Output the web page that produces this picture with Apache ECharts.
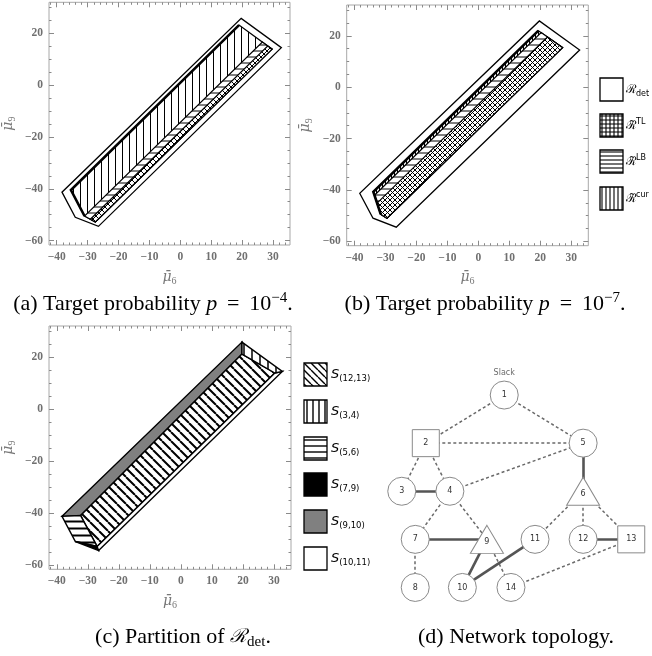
<!DOCTYPE html>
<html><head><meta charset="utf-8">
<script src="https://cdn.jsdelivr.net/npm/echarts@6.0.0/dist/echarts.min.js"></script>
<style>html,body{margin:0;padding:0;background:#fff;}#chart{width:652px;height:656px;}</style>
</head><body><div id="chart"></div>
<script>
// ---------- axis ticks ----------
const xMajor = [-40, -30, -20, -10, 0, 10, 20, 30];
const xMinor = [-42, -38, -36, -34, -32, -28, -26, -24, -22, -18, -16, -14, -12, -8, -6, -4, -2, 2, 4, 6, 8, 12, 14, 16, 18, 22, 24, 26, 28, 32, 34];
const yMajor = [-60, -40, -20, 0, 20];
const yMinor = [-55, -50, -45, -35, -30, -25, -15, -10, -5, 5, 10, 15, 25, 30];
const xRange = [-42.5, 35.5];
const yRange = [-61.7, 32];

// ---------- regions (mu6, mu9) ----------
const rDet = [[-38.3, -41.3], [-34, -51], [-26.5, -54.5], [32.7, 14.5], [19.7, 25.8]];
// (a) p = 1e-4
const curA = [[-35.4, -40.5], [-31, -50.5], [-27.5, -52.8], [29.7, 13.9], [19, 23.2]];
const lbA = [[-31, -50.5], [-27.5, -52.8], [29.7, 13.9], [26.55, 16.64]];
const tlA = [[-29.1, -51.75], [-27.5, -52.8], [29.7, 13.9], [28.27, 15.14]];
const edgeA = [[19, 23.2], [-35.4, -40.5], [-31, -50.5]];
// (b) p = 1e-7
const curB = [[-33.9, -40.7], [-31.5, -49.5], [-29.5, -51], [27.2, 15.4], [19.4, 22]];
const lbB = [[-33.53, -42.06], [-31.5, -49.5], [-29.5, -51], [27.2, 15.4], [20.28, 21.26]];
const tlB = [[-32.69, -45.14], [-31.5, -49.5], [-29.5, -51], [27.2, 15.4], [22.31, 19.54]];
const edgeB = [[19.4, 22], [-33.9, -40.7], [-31.5, -49.5]];
// (c) partition
const s910 = [[-38.3, -41.3], [19.7, 25.8], [19.7, 21.2], [-32.3, -41]];
const s1213 = [[-32.3, -41], [19.7, 21.2], [30.3, 13.9], [-27, -52.9]];
const s56 = [[-38.3, -41.3], [-32.3, -41], [-27, -52.9], [-34, -51]];
const s79 = [[-34, -51], [-27, -52.9], [-26.5, -54.5]];
const s1011 = [[-27, -52.9], [-26.5, -54.5], [32.7, 14.5], [30.3, 13.9]];
const s34 = [[19.7, 25.8], [32.7, 14.5], [30.3, 13.9], [19.7, 21.2]];

// ---------- (d) network ----------
const nodeIds = ['1', '2', '3', '4', '5', '6', '7', '8', '9', '10', '11', '12', '13', '14'];
const nodeX = [2.13, 0.5, 0, 1.0, 3.77, 3.77, 0.28, 0.28, 1.77, 1.26, 2.77, 3.77, 4.77, 2.27];
const nodeY = [0, 1, 2, 2, 1, 2, 3, 4, 3, 4, 3, 3, 3, 4];
const nodeShape = ['circle', 'rect', 'circle', 'circle', 'circle', 'triangle', 'circle', 'circle', 'triangle', 'circle', 'circle', 'circle', 'rect', 'circle'];
const dashedLinks = [[1, 2], [1, 5], [2, 5], [2, 3], [2, 4], [4, 5], [4, 7], [4, 9], [6, 11], [6, 12], [6, 13], [7, 8], [9, 14], [13, 14]];
const solidLinks = [[3, 4], [5, 6], [7, 9], [9, 10], [10, 11], [12, 13]];
const slackNode = '1';

// ---------- legend labels ----------
const legendBLabels = ['{r|ℛ}{sub|det}', '{r|ℛ\u0303}{sup|TL}', '{r|ℛ\u0303}{sup|LB}', '{r|ℛ\u0303}{sup|cur}'];
const legendCLabels = ['(12,13)', '(3,4)', '(5,6)', '(7,9)', '(9,10)', '(10,11)'];
const axisNames = [{ sym: 'μ\u0304', sub: '6' }, { sym: 'μ\u0304', sub: '9' }];

// ---------- patterns ----------
function pattern(kind, s, lw) {
  const c = document.createElement('canvas'); c.width = s; c.height = s;
  const g = c.getContext('2d');
  g.fillStyle = '#fff'; g.fillRect(0, 0, s, s);
  g.strokeStyle = '#000'; g.lineWidth = lw;
  g.beginPath();
  if (kind.includes('v')) { g.moveTo(s / 2, 0); g.lineTo(s / 2, s); }
  if (kind.includes('h')) { g.moveTo(0, s / 2); g.lineTo(s, s / 2); }
  if (kind.includes('d')) { for (const k of [-s, 0, s]) { g.moveTo(k, 0); g.lineTo(k + s, s); } }
  if (kind.includes('a')) { for (const k of [-s, 0, s]) { g.moveTo(k, s); g.lineTo(k + s, 0); } }
  g.stroke();
  return { image: c, repeat: 'repeat' };
}
const P = {
  aCur: pattern('v', 7, 1), aLB: pattern('h', 6, 1), aTL: pattern('da', 6, 1),
  bCur: pattern('v', 3, 1), bLB: pattern('h', 6, 1), bTL: pattern('da', 5, 1),
  cDiag: pattern('d', 9, 2), cH: pattern('h', 7, 2), cV: pattern('v', 8, 1.5),
  lTL: pattern('vh', 4, 1.1), lLB: pattern('h', 4, 1.1), lCur: pattern('v', 4, 1.1),
  lDiag: pattern('d', 7, 1.4), lV: pattern('v', 6, 1.4), lH: pattern('h', 6, 1.4)
};

const grids = [
  { left: 47.7, top: 2.3, width: 242.3, height: 242.7 },
  { left: 346.7, top: 5, width: 241.6, height: 240.7 },
  { left: 48.3, top: 326, width: 242.7, height: 243.3 },
  { left: 377.7, top: 371, width: 264.6, height: 240.5 }
];

const minus = v => (v < 0 ? '\u2212' + Math.abs(v) : String(v));
const tickColor = '#8a8a8a';
const labelStyle = { color: '#707070', fontFamily: 'Liberation Serif', fontWeight: 'bold', fontSize: 11.5 };
const nameRich = {
  m: { fontFamily: 'DejaVu Serif', fontStyle: 'italic', fontSize: 14, lineHeight: 18, color: '#777' },
  s: { fontFamily: 'Liberation Serif', fontSize: 10, lineHeight: 10, color: '#777', verticalAlign: 'bottom' }
};
const xName = '{m|' + axisNames[0].sym + '}{s|' + axisNames[0].sub + '}';
const yName = '{m|' + axisNames[1].sym + '}{s|' + axisNames[1].sub + '}';

const xAxis = [], yAxis = [], series = [];
for (let gi = 0; gi < 3; gi++) {
  const base = { gridIndex: gi, type: 'value', min: xRange[0], max: xRange[1], axisLine: { show: false, onZero: false }, splitLine: { show: false } };
  const tick = (vals, len) => ({ inside: true, length: len, customValues: vals, lineStyle: { color: tickColor } });
  xAxis.push(Object.assign({}, base, {
    position: 'bottom', axisTick: tick(xMajor, 5),
    axisLabel: Object.assign({ customValues: xMajor, formatter: minus, margin: 6 }, labelStyle),
    name: xName, nameLocation: 'middle', nameGap: 23, nameTextStyle: { rich: nameRich }
  }));
  xAxis.push(Object.assign({}, base, { position: 'top', axisTick: tick(xMajor, 5), axisLabel: { show: false } }));
  xAxis.push(Object.assign({}, base, { position: 'bottom', axisTick: tick(xMinor, 2.5), axisLabel: { show: false } }));
  xAxis.push(Object.assign({}, base, { position: 'top', axisTick: tick(xMinor, 2.5), axisLabel: { show: false } }));
  const ybase = { gridIndex: gi, type: 'value', min: yRange[0], max: yRange[1], axisLine: { show: false, onZero: false }, splitLine: { show: false } };
  yAxis.push(Object.assign({}, ybase, {
    position: 'left', axisTick: tick(yMajor, 5),
    axisLabel: Object.assign({ customValues: yMajor, formatter: minus, margin: 6 }, labelStyle),
    name: yName, nameLocation: 'middle', nameGap: 32, nameTextStyle: { rich: nameRich }
  }));
  yAxis.push(Object.assign({}, ybase, { position: 'right', axisTick: tick(yMajor, 5), axisLabel: { show: false } }));
  yAxis.push(Object.assign({}, ybase, { position: 'left', axisTick: tick(yMinor, 2.5), axisLabel: { show: false } }));
  yAxis.push(Object.assign({}, ybase, { position: 'right', axisTick: tick(yMinor, 2.5), axisLabel: { show: false } }));
}
// network axes
xAxis.push({ gridIndex: 3, type: 'value', min: -0.5, max: 5.0, show: false });
yAxis.push({ gridIndex: 3, type: 'value', min: -0.5, max: 4.5, inverse: true, show: false });

function poly(gi, pts, fill, opts) {
  opts = opts || {};
  return {
    type: 'custom', xAxisIndex: 4 * gi, yAxisIndex: 4 * gi, data: pts, silent: true, z: 3,
    renderItem: function (params, api) {
      if (params.dataIndex !== 0) return null;
      const p = pts.map(v => api.coord(v));
      if (opts.line) {
        return { type: 'polyline', shape: { points: p }, style: { stroke: '#000', lineWidth: opts.lw || 2.5, fill: null, lineJoin: 'miter' } };
      }
      return { type: 'polygon', shape: { points: p }, style: { fill: fill, stroke: '#000', lineWidth: opts.lw || 1.2, lineJoin: 'miter' } };
    }
  };
}

// (a)
series.push(poly(0, rDet, '#fff', { lw: 1.3 }));
series.push(poly(0, curA, P.aCur));
series.push(poly(0, lbA, P.aLB));
series.push(poly(0, tlA, P.aTL));
series.push(poly(0, edgeA, null, { line: true, lw: 2.6 }));
// (b)
series.push(poly(1, rDet, '#fff', { lw: 1.3 }));
series.push(poly(1, curB, P.bCur));
series.push(poly(1, lbB, P.bLB));
series.push(poly(1, tlB, P.bTL));
series.push(poly(1, edgeB, null, { line: true, lw: 2.6 }));
// (c)
series.push(poly(2, s910, '#808080', { lw: 1.4 }));
series.push(poly(2, s1213, P.cDiag, { lw: 1.4 }));
series.push(poly(2, s56, P.cH, { lw: 1.4 }));
series.push(poly(2, s79, '#000', { lw: 1.4 }));
series.push(poly(2, s1011, '#fff', { lw: 1.4 }));
series.push(poly(2, s34, P.cV, { lw: 1.4 }));

// (d) network graph
const nodes = nodeIds.map((id, i) => ({
  name: id, value: [nodeX[i], nodeY[i]], symbol: nodeShape[i],
  symbolSize: nodeShape[i] === 'triangle' ? [33, 28] : (nodeShape[i] === 'rect' ? 27 : 28),
  label: nodeShape[i] === 'triangle' ? { offset: [0, 3] } : {}
}));
const links = dashedLinks.map(l => ({ source: String(l[0]), target: String(l[1]), lineStyle: { type: [3, 2.5], width: 1.5, color: '#6a6a6a' } }))
  .concat(solidLinks.map(l => ({ source: String(l[0]), target: String(l[1]), lineStyle: { type: 'solid', width: 2.6, color: '#555' } })));
series.push({
  type: 'graph', coordinateSystem: 'cartesian2d', xAxisIndex: 12, yAxisIndex: 12, layout: 'none', silent: true, z: 3,
  data: nodes, links: links,
  itemStyle: { color: '#fff', borderColor: '#8a8a8a', borderWidth: 1 },
  label: { show: true, position: 'inside', color: '#333', fontFamily: 'DejaVu Sans', fontSize: 8 },
  lineStyle: { opacity: 1, curveness: 0 }
});
const si = nodeIds.indexOf(slackNode);
series.push({
  type: 'scatter', xAxisIndex: 12, yAxisIndex: 12, silent: true, z: 4,
  data: [[nodeX[si], nodeY[si]]], symbolSize: 28, itemStyle: { color: 'rgba(0,0,0,0)' },
  label: { show: true, position: 'top', distance: 4, formatter: 'Slack', color: '#444', fontFamily: 'DejaVu Sans', fontSize: 8 }
});

// ---------- graphics: legends and captions ----------
const graphic = [];
const legBFills = ['#fff', P.lTL, P.lLB, P.lCur];
const legBTop = [78, 114, 150, 187];
legBFills.forEach((f, i) => {
  graphic.push({ type: 'rect', x: 600, y: legBTop[i], shape: { x: 0, y: 0, width: 23, height: 23 }, style: { fill: f, stroke: '#000', lineWidth: 1.3 } });
  graphic.push({ type: 'text', x: 626, y: legBTop[i] + 11.5, style: {
    text: legendBLabels[i], align: 'left', verticalAlign: 'middle',
    rich: {
      r: { fontFamily: 'DejaVu Serif', fontSize: 12, lineHeight: 16, fill: '#000' },
      sub: { fontFamily: 'DejaVu Sans', fontSize: 8, lineHeight: 8, verticalAlign: 'bottom', fill: '#000' },
      sup: { fontFamily: 'DejaVu Sans', fontSize: 8, lineHeight: 8, verticalAlign: 'top', fill: '#000' }
    } } });
});
const legCFills = [P.lDiag, P.lV, P.lH, '#000', '#808080', '#fff'];
const legCTop = [363, 400, 437, 473, 510, 547];
legCFills.forEach((f, i) => {
  graphic.push({ type: 'rect', x: 304, y: legCTop[i], shape: { x: 0, y: 0, width: 23, height: 23 }, style: { fill: f, stroke: '#000', lineWidth: 1.3 } });
  graphic.push({ type: 'text', x: 331, y: legCTop[i] + 11.5, style: {
    text: '{s|S}{sub|' + legendCLabels[i] + '}', align: 'left', verticalAlign: 'middle',
    rich: {
      s: { fontFamily: 'DejaVu Sans', fontStyle: 'italic', fontSize: 13, lineHeight: 17, fill: '#000' },
      sub: { fontFamily: 'DejaVu Sans', fontSize: 8.5, lineHeight: 9, verticalAlign: 'bottom', fill: '#000' }
    } } });
});
const capRich = {
  t: { fontFamily: 'Liberation Serif', fontSize: 22, lineHeight: 26, fill: '#000' },
  i: { fontFamily: 'Liberation Serif', fontStyle: 'italic', fontSize: 22, lineHeight: 26, fill: '#000' },
  u: { fontFamily: 'Liberation Serif', fontSize: 15, lineHeight: 15, verticalAlign: 'top', fill: '#000' },
  r: { fontFamily: 'DejaVu Serif', fontStyle: 'italic', fontSize: 19, lineHeight: 26, fill: '#000' },
  d: { fontFamily: 'Liberation Serif', fontSize: 15, lineHeight: 15, verticalAlign: 'bottom', fill: '#000' }
};
const captions = [
  { x: 153, y: 304, text: '{t|(a) Target probability }{i|p}{t|\u2009 = \u200910}{u|\u22124}{t|.}' },
  { x: 485, y: 304, text: '{t|(b) Target probability }{i|p}{t|\u2009 = \u200910}{u|\u22127}{t|.}' },
  { x: 183, y: 637, text: '{t|(c) Partition of }{r|ℛ}{d|det}{t|.}' },
  { x: 516, y: 637, text: '{t|(d) Network topology.}' }
];
captions.forEach(c => graphic.push({ type: 'text', x: c.x, y: c.y, style: { text: c.text, align: 'center', verticalAlign: 'middle', rich: capRich } }));

const option = {
  animation: false,
  backgroundColor: '#fff',
  grid: grids.map((g, i) => Object.assign({ show: i < 3, borderColor: '#a8a8a8', borderWidth: 1, backgroundColor: 'transparent' }, g)),
  xAxis: xAxis, yAxis: yAxis, series: series, graphic: graphic
};
const chart = echarts.init(document.getElementById('chart'), null, { renderer: 'canvas', width: 652, height: 656 });
chart.setOption(option);
</script>
</body></html>
